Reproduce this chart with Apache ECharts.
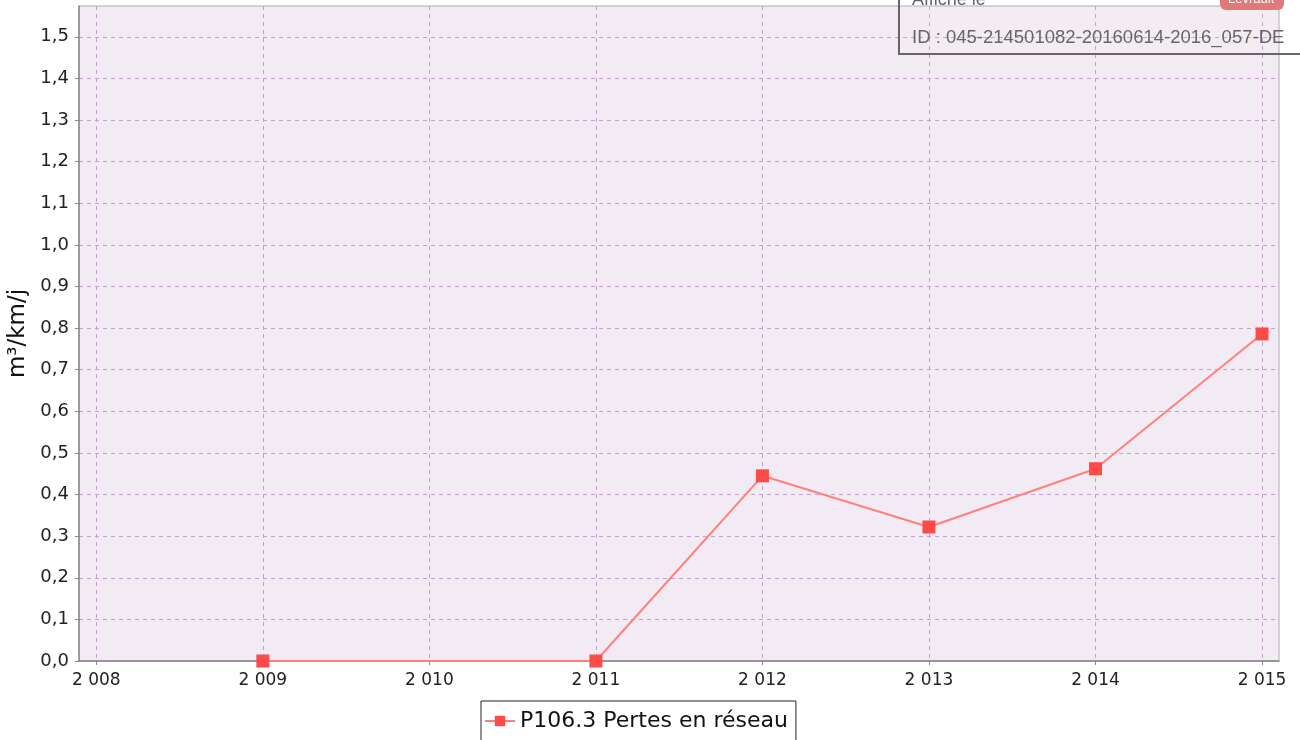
<!DOCTYPE html>
<html>
<head>
<meta charset="utf-8">
<script src="https://cdn.jsdelivr.net/npm/echarts@6/dist/echarts.min.js"></script>
<style>
  html, body { margin: 0; padding: 0; background: #fff; }
  #chart { width: 1300px; height: 740px; }
</style>
</head>
<body>
<div id="chart"></div>
<script>
var years = [2009, 2011, 2012, 2013, 2014, 2015];
var pertes = [0, 0, 0.445, 0.322, 0.462, 0.786];
var xTicks = [2008, 2009, 2010, 2011, 2012, 2013, 2014, 2015];
var yTicks = [0, 0.1, 0.2, 0.3, 0.4, 0.5, 0.6, 0.7, 0.8, 0.9, 1.0, 1.1, 1.2, 1.3, 1.4, 1.5];
var seriesName = 'P106.3 Pertes en réseau';

var points = years.map(function (y, i) { return [y, pertes[i]]; });

var gridLine = {
    show: true,
    lineStyle: { color: '#c6a0cc', type: [4, 4], width: 1 }
};

var myChart = echarts.init(document.getElementById('chart'));
myChart.setOption({
    backgroundColor: '#fff',
    animation: false,
    textStyle: { fontFamily: 'DejaVu Sans' },
    grid: {
        left: 79, right: 21, top: 6, bottom: 79,
        outerBoundsMode: 'none',
        containLabel: false,
        show: true,
        backgroundColor: '#f3ebf3',
        borderColor: '#aaa',
        borderWidth: 1
    },
    legend: {
        bottom: -4,
        left: 481,
        data: [seriesName],
        itemWidth: 30,
        itemHeight: 13,
        itemGap: 4,
        padding: [9, 8, 12, 3],
        borderColor: '#222',
        borderWidth: 1,
        borderRadius: 0,
        textStyle: { fontSize: 22, color: '#111', fontFamily: 'DejaVu Sans' }
    },
    xAxis: {
        type: 'value',
        min: 2007.896,
        max: 2015.102,
        axisLine: { lineStyle: { color: '#888', width: 1.5 } },
        axisTick: { show: true, length: 4, customValues: xTicks, lineStyle: { color: '#888' } },
        axisLabel: {
            customValues: xTicks,
            color: '#222', fontSize: 17, margin: 11,
            formatter: function (v) {
                var s = String(v);
                return s.charAt(0) + ' ' + s.slice(1);
            }
        },
        splitLine: gridLine
    },
    yAxis: {
        type: 'value',
        min: 0,
        max: 1.574,
        name: 'm³/km/j',
        nameLocation: 'middle',
        nameGap: 47,
        nameRotate: 90,
        nameTextStyle: { fontSize: 23, color: '#111' },
        axisLine: { show: true, lineStyle: { color: '#888', width: 1.5 } },
        axisTick: { show: true, length: 4, customValues: yTicks, lineStyle: { color: '#888' } },
        axisLabel: {
            customValues: yTicks,
            color: '#222', fontSize: 18, margin: 10,
            formatter: function (v) { return v.toFixed(1).replace('.', ','); }
        },
        splitLine: gridLine
    },
    series: [{
        name: seriesName,
        type: 'line',
        data: points,
        symbol: 'rect',
        symbolSize: 13,
        lineStyle: { color: '#ff8080', width: 2 },
        itemStyle: { color: '#ff4a4a' }
    }],
    graphic: [
        {
            type: 'rect',
            left: 898, top: -6,
            shape: { width: 420, height: 59 },
            style: { fill: 'rgba(255,255,255,0.05)', stroke: '#666', lineWidth: 2 },
            z: 100
        },
        {
            type: 'rect',
            left: 1220, top: -12,
            shape: { width: 64, height: 22, r: 6 },
            style: { fill: '#e27878' },
            z: 101
        },
        {
            type: 'text',
            left: 1228, top: -7,
            style: { text: 'Levrault', fill: '#fff', fontSize: 13, fontFamily: 'Liberation Sans' },
            z: 102
        },
        {
            type: 'text',
            left: 912, top: -9,
            style: { text: 'Affiché le', fill: '#666', fontSize: 18, fontFamily: 'Liberation Sans' },
            z: 101
        },
        {
            type: 'text',
            left: 912, top: 28,
            style: { text: 'ID : 045-214501082-20160614-2016_057-DE', fill: '#666', fontSize: 18.5, fontFamily: 'Liberation Sans' },
            z: 101
        }
    ]
});
</script>
</body>
</html>
